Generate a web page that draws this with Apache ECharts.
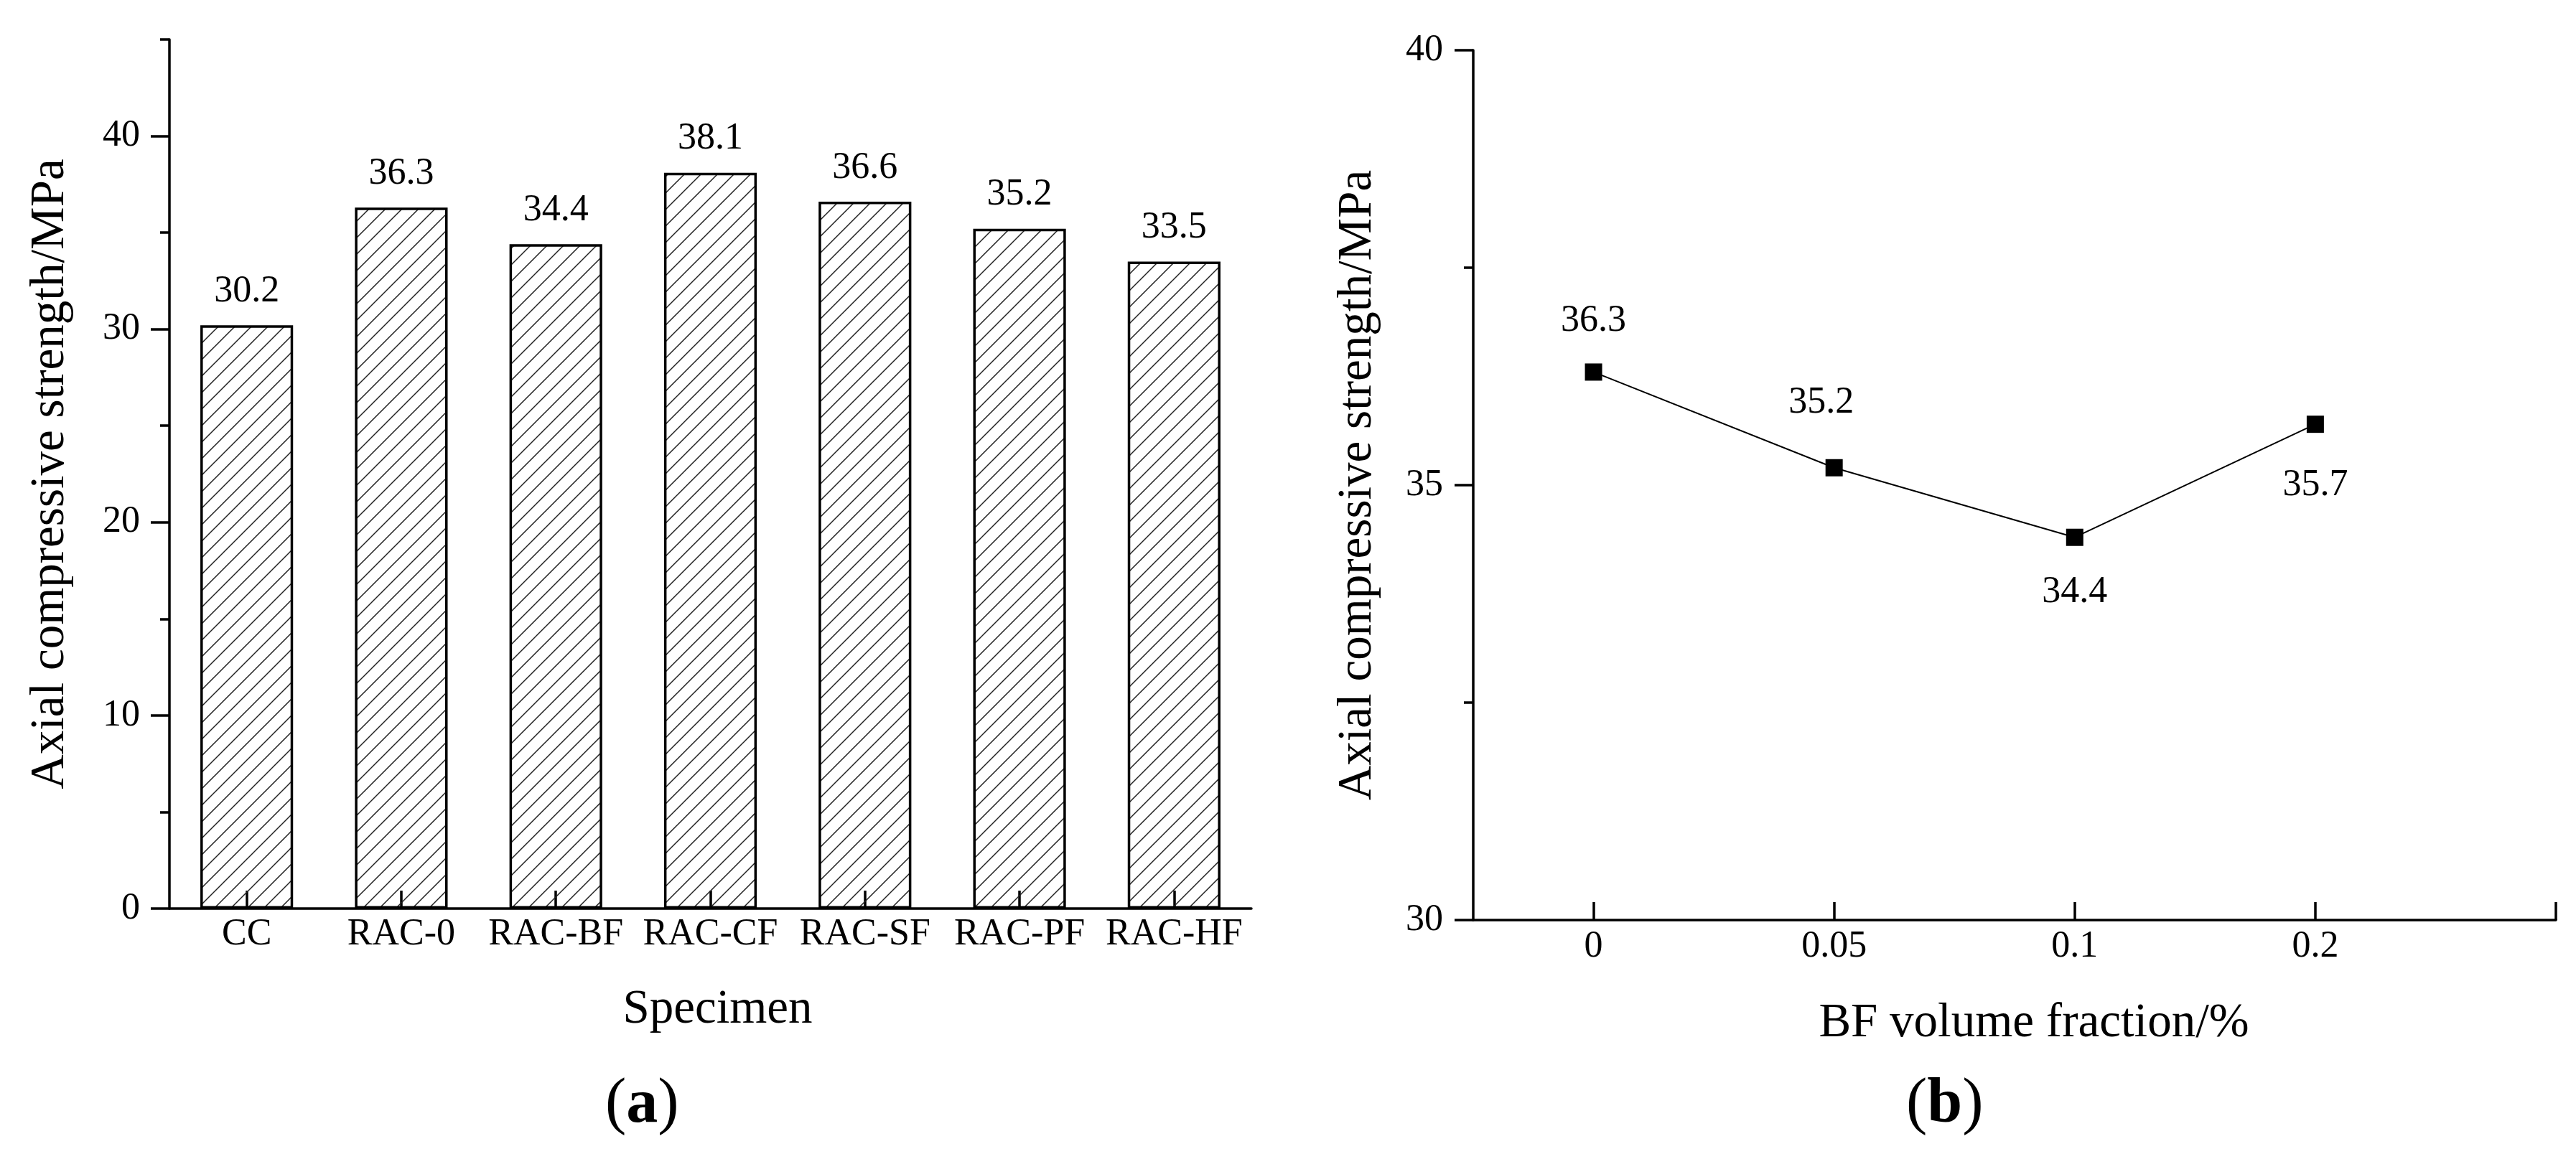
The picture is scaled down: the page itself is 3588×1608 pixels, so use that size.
<!DOCTYPE html>
<html>
<head>
<meta charset="utf-8">
<script src="https://cdn.jsdelivr.net/npm/echarts@6/dist/echarts.min.js"></script>
<style>
html, body { margin: 0; padding: 0; background: #fff; }
#main { width: 3588px; height: 1608px; }
</style>
</head>
<body>
<div id="main"></div>
<script>
// (a) axial compressive strength of each specimen
var specimens = ['CC', 'RAC-0', 'RAC-BF', 'RAC-CF', 'RAC-SF', 'RAC-PF', 'RAC-HF'];
var strengthA = [30.2, 36.3, 34.4, 38.1, 36.6, 35.2, 33.5];
var majorTicksA = [0, 10, 20, 30, 40];
var minorTicksA = [5, 15, 25, 35, 45];

// (b) strength vs BF volume fraction
var fractions = ['0', '0.05', '0.1', '0.2'];
var strengthB = [36.3, 35.2, 34.4, 35.7];

var serif = "'Liberation Serif', 'Times New Roman', serif";

// diagonal hatch for the bars
var hatch = document.createElement('canvas');
var s = 23;
hatch.width = s;
hatch.height = s;
var hc = hatch.getContext('2d');
hc.strokeStyle = '#222';
hc.lineWidth = 1.5;
hc.beginPath();
hc.moveTo(-s, s); hc.lineTo(s, -s);
hc.moveTo(0, s); hc.lineTo(s, 0);
hc.moveTo(0, 2 * s); hc.lineTo(2 * s, 0);
hc.stroke();

// where the point labels of (b) sit
var placeB = [
    {position: 'top', distance: 33},
    {position: 'top', distance: 52, offset: [-18, 0]},
    {position: 'bottom', distance: 39},
    {position: 'bottom', distance: 47}
];

var tickIdxB = fractions.map(function (f, i) { return i; });

var dom = document.getElementById('main');
var myChart = echarts.init(dom);

var axisLine = {show: true, onZero: false, lineStyle: {color: '#000', width: 3.5}};
var labelFont = {color: '#000', fontSize: 52, fontFamily: serif};
var nameFont = {color: '#000', fontSize: 67, fontFamily: serif};

var option = {
    animation: false,
    backgroundColor: '#fff',
    grid: [
        {left: 236, right: 1845, top: 55, bottom: 342, outerBoundsMode: 'none'},
        {left: 2052, right: 28, top: 70, bottom: 326, outerBoundsMode: 'none'}
    ],
    xAxis: [
        {
            gridIndex: 0,
            type: 'category',
            data: specimens,
            boundaryGap: true,
            axisLine: axisLine,
            axisTick: {show: true, alignWithLabel: true, inside: true, length: 25,
                lineStyle: {color: '#000', width: 3.5}},
            axisLabel: Object.assign({interval: 0, margin: 10}, labelFont),
            splitLine: {show: false},
            name: 'Specimen',
            nameLocation: 'middle',
            nameGap: 108,
            nameTextStyle: Object.assign({padding: [0, 0, 0, 20]}, nameFont)
        },
        {
            gridIndex: 1,
            type: 'value',
            min: -0.5,
            max: fractions.length,
            axisLine: axisLine,
            axisTick: {show: true, inside: true, length: 25,
                customValues: tickIdxB.concat([fractions.length]),
                lineStyle: {color: '#000', width: 3.5}},
            axisLabel: Object.assign({
                margin: 11,
                customValues: tickIdxB,
                formatter: function (v) { return fractions[Math.round(v)]; }
            }, labelFont),
            splitLine: {show: false},
            name: 'BF volume fraction/%',
            nameLocation: 'middle',
            nameGap: 111,
            nameTextStyle: Object.assign({padding: [0, 0, 0, 54]}, nameFont)
        }
    ],
    yAxis: [
        {
            gridIndex: 0,
            type: 'value',
            min: 0,
            max: 45,
            interval: 10,
            axisLine: axisLine,
            axisTick: {show: true, length: 26, customValues: majorTicksA,
                lineStyle: {color: '#000', width: 3.5}},
            axisLabel: Object.assign({margin: 41, customValues: majorTicksA}, labelFont),
            splitLine: {show: false},
            name: 'Axial compressive strength/MPa',
            nameLocation: 'middle',
            nameRotate: 90,
            nameGap: 132,
            nameTextStyle: nameFont
        },
        {
            gridIndex: 0,
            type: 'value',
            position: 'left',
            min: 0,
            max: 45,
            axisLine: {show: false, onZero: false},
            axisTick: {show: true, length: 13, customValues: minorTicksA,
                lineStyle: {color: '#000', width: 3.5}},
            axisLabel: {show: false},
            splitLine: {show: false}
        },
        {
            gridIndex: 1,
            type: 'value',
            min: 30,
            max: 40,
            interval: 5,
            axisLine: axisLine,
            axisTick: {show: true, length: 26, lineStyle: {color: '#000', width: 3.5}},
            minorTick: {show: true, splitNumber: 2, length: 13,
                lineStyle: {color: '#000', width: 3.5}},
            axisLabel: Object.assign({margin: 42}, labelFont),
            splitLine: {show: false},
            name: 'Axial compressive strength/MPa',
            nameLocation: 'middle',
            nameRotate: 90,
            nameGap: 127,
            nameTextStyle: nameFont
        }
    ],
    series: [
        {
            type: 'bar',
            xAxisIndex: 0,
            yAxisIndex: 0,
            data: strengthA,
            barWidth: '60%',
            itemStyle: {
                color: {image: hatch, repeat: 'repeat'},
                borderColor: '#000',
                borderWidth: 3.5
            },
            label: Object.assign({show: true, position: 'top', distance: 21}, labelFont)
        },
        {
            type: 'line',
            xAxisIndex: 1,
            yAxisIndex: 2,
            data: strengthB.map(function (v, i) {
                return {value: [i, v], label: placeB[i]};
            }),
            symbol: 'rect',
            symbolSize: 24,
            itemStyle: {color: '#000'},
            lineStyle: {color: '#000', width: 2},
            label: Object.assign({show: true}, labelFont)
        }
    ],
    graphic: [
        {
            type: 'text', left: 888 - 45, top: 1496,
            style: {
                text: '{p|(}{b|a}{p|)}',
                rich: {
                    p: {fontSize: 88, fontFamily: serif, fill: '#000'},
                    b: {fontSize: 88, fontFamily: serif, fontWeight: 'bold', fill: '#000'}
                }
            }
        },
        {
            type: 'text', left: 2705 - 50, top: 1496,
            style: {
                text: '{p|(}{b|b}{p|)}',
                rich: {
                    p: {fontSize: 88, fontFamily: serif, fill: '#000'},
                    b: {fontSize: 88, fontFamily: serif, fontWeight: 'bold', fill: '#000'}
                }
            }
        }
    ]
};

myChart.setOption(option, true);
window.onresize = function () {
    myChart.resize();
};
</script>
</body>
</html>
